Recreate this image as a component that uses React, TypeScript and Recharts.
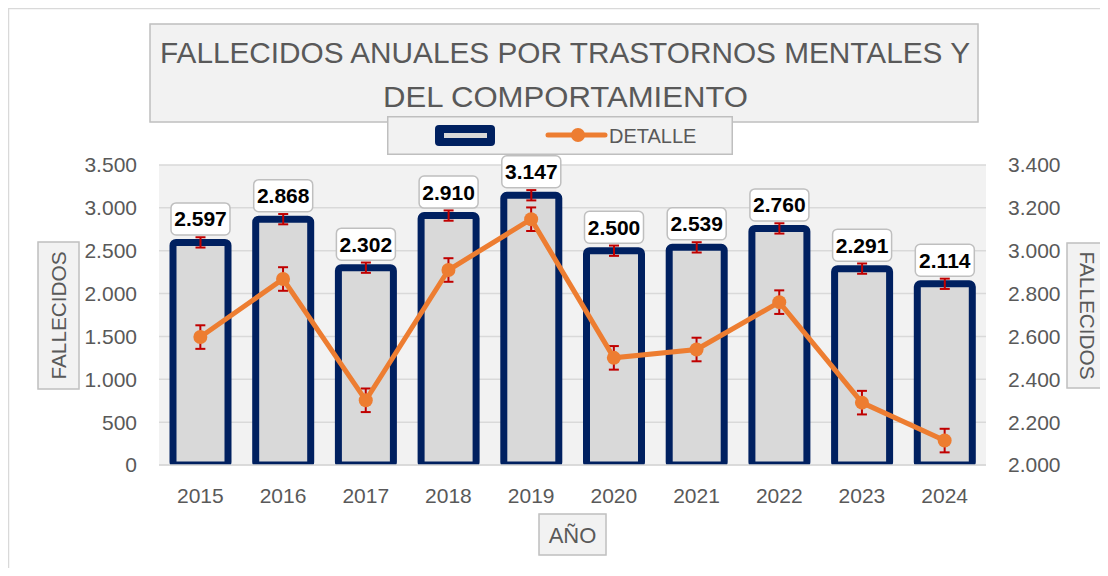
import React from 'react';
import { ComposedChart, Bar, Line, XAxis, YAxis, CartesianGrid, ErrorBar, Legend } from 'recharts';

const years = ['2015', '2016', '2017', '2018', '2019', '2020', '2021', '2022', '2023', '2024'];
const fallecidos = [2597, 2868, 2302, 2910, 3147, 2500, 2539, 2760, 2291, 2114];
const barError = [60, 60, 60, 60, 60, 60, 60, 60, 60, 60];
const lineError = [55, 55, 55, 55, 55, 55, 55, 55, 55, 55];
const leftTicks = [0, 500, 1000, 1500, 2000, 2500, 3000, 3500];
const rightTicks = [2000, 2200, 2400, 2600, 2800, 3000, 3200, 3400];

const data = years.map((y, i) => ({
  year: y,
  bar: fallecidos[i],
  line: fallecidos[i],
  barErr: barError[i],
  lineErr: lineError[i],
}));

const FONT = "'Liberation Sans', Arial, sans-serif";
const GREY_TEXT = '#595959';

const fmt = (v: number) => String(Math.round(v)).replace(/\B(?=(\d{3})+(?!\d))/g, '.');

const BarLabel = (props: any) => {
  const { x, y, width, value } = props;
  const cx = Number(x) + Number(width) / 2;
  const w = 59;
  const h = 32;
  const bottom = Number(y) - 7.5;
  return (
    <g>
      <rect x={cx - w / 2} y={bottom - h} width={w} height={h} rx={5} ry={5} fill="#ffffff" stroke="#bfbfbf" strokeWidth={1.5} />
      <text x={cx} y={bottom - h / 2 + 7.5} textAnchor="middle" fontSize={21} fontWeight="bold" fill="#000000" fontFamily={FONT}>
        {fmt(Number(value))}
      </text>
    </g>
  );
};

const LegendContent = () => (
  <svg width={346} height={39} style={{ display: 'block' }}>
    <rect x={0.75} y={0.75} width={344.5} height={37.5} fill="#f2f2f2" stroke="#bfbfbf" strokeWidth={1.5} />
    <rect x={48} y={9} width={60} height={21} rx={4} ry={4} fill="#002060" />
    <rect x={57} y={17} width={43} height={5} fill="#d9d9d9" />
    <line x1={161} y1={19} x2={218} y2={19} stroke="#ed7d31" strokeWidth={5} strokeLinecap="round" />
    <circle cx={191} cy={19} r={7} fill="#ed7d31" />
    <text x={222} y={26.5} fontSize={20} fill={GREY_TEXT} fontFamily={FONT}>DETALLE</text>
  </svg>
);

export default function App() {
  return (
    <div style={{ position: 'relative', width: 1092, height: 560 }}>
      <svg
        width={1100}
        height={560}
        style={{ position: 'absolute', left: 0, top: 0, overflow: 'visible', pointerEvents: 'none' }}
      >
        <line x1={0.5} y1={0} x2={0.5} y2={560} stroke="#d9d9d9" strokeWidth={1.5} />
        <line x1={0} y1={0.5} x2={1092} y2={0.5} stroke="#d9d9d9" strokeWidth={1.5} />
        {/* Title */}
        <rect x={142} y={16} width={828} height={98} fill="#f2f2f2" stroke="#bfbfbf" strokeWidth={1.5} />
        <text x={152} y={55} fontSize={29} fill={GREY_TEXT} fontFamily={FONT} textLength={810} lengthAdjust="spacingAndGlyphs">
          FALLECIDOS ANUALES POR TRASTORNOS MENTALES Y
        </text>
        <text x={375} y={99} fontSize={29} fill={GREY_TEXT} fontFamily={FONT} textLength={365} lengthAdjust="spacingAndGlyphs">
          DEL COMPORTAMIENTO
        </text>
        {/* Left axis title */}
        <rect x={30} y={234} width={41} height={147} fill="#f2f2f2" stroke="#bfbfbf" strokeWidth={1.5} />
        <text
          x={0}
          y={0}
          transform="translate(58,307.5) rotate(-90)"
          textAnchor="middle"
          fontSize={21}
          fill={GREY_TEXT}
          fontFamily={FONT}
          textLength={128}
          lengthAdjust="spacingAndGlyphs"
        >
          FALLECIDOS
        </text>
        {/* Right axis title */}
        <rect x={1059} y={235} width={40} height={145} fill="#f2f2f2" stroke="#bfbfbf" strokeWidth={1.5} />
        <text
          x={0}
          y={0}
          transform="translate(1071.5,307.5) rotate(90)"
          textAnchor="middle"
          fontSize={21}
          fill={GREY_TEXT}
          fontFamily={FONT}
          textLength={128}
          lengthAdjust="spacingAndGlyphs"
        >
          FALLECIDOS
        </text>
        {/* X axis title */}
        <rect x={531} y={506} width={67} height={41} fill="#f2f2f2" stroke="#bfbfbf" strokeWidth={1.5} />
        <text x={564.5} y={535} textAnchor="middle" fontSize={22} fill={GREY_TEXT} fontFamily={FONT}>
          AÑO
        </text>
      </svg>
      <ComposedChart
        width={1092}
        height={560}
        data={data}
        margin={{ top: 157, right: 34, bottom: 63, left: 71 }}
        style={{ fontFamily: FONT }}
      >
        <CartesianGrid yAxisId="left" vertical={false} stroke="#d9d9d9" strokeWidth={1.5} fill="#f2f2f2" fillOpacity={1} />
        <XAxis
          dataKey="year"
          height={40}
          axisLine={{ stroke: '#d9d9d9', strokeWidth: 1.5 }}
          tickLine={false}
          tickSize={6}
          tickMargin={17}
          tick={{ fontSize: 21, fill: GREY_TEXT, fontFamily: FONT }}
          interval={0}
        />
        <YAxis
          yAxisId="left"
          orientation="left"
          width={80}
          domain={[0, 3500]}
          ticks={leftTicks}
          allowDataOverflow
          axisLine={false}
          tickLine={false}
          tickSize={6}
          tickMargin={16}
          tickFormatter={fmt}
          tick={{ fontSize: 21, fill: GREY_TEXT, fontFamily: FONT }}
        />
        <YAxis
          yAxisId="right"
          orientation="right"
          width={80}
          domain={[2000, 3400]}
          ticks={rightTicks}
          allowDataOverflow
          axisLine={false}
          tickLine={false}
          tickSize={6}
          tickMargin={16}
          tickFormatter={fmt}
          tick={{ fontSize: 21, fill: GREY_TEXT, fontFamily: FONT, textAnchor: 'start' }}
        />
        <Legend
          layout="horizontal"
          verticalAlign="middle"
          align="center"
          wrapperStyle={{ position: 'absolute', left: 379, top: 108, width: 346, height: 39 }}
          content={LegendContent}
        />
        <Bar
          yAxisId="left"
          dataKey="bar"
          name=""
          barSize={55}
          fill="#d9d9d9"
          stroke="#002060"
          strokeWidth={7}
          radius={3}
          isAnimationActive={false}
          label={BarLabel}
        >
          <ErrorBar dataKey="barErr" width={5} stroke="#c00000" strokeWidth={2} direction="y" />
        </Bar>
        <Line
          yAxisId="right"
          dataKey="line"
          name="DETALLE"
          stroke="#ed7d31"
          strokeWidth={5}
          dot={{ r: 7, fill: '#ed7d31', stroke: '#ed7d31', strokeWidth: 0 }}
          activeDot={false}
          isAnimationActive={false}
        >
          <ErrorBar dataKey="lineErr" width={5} stroke="#c00000" strokeWidth={2} direction="y" />
        </Line>
      </ComposedChart>
    </div>
  );
}
